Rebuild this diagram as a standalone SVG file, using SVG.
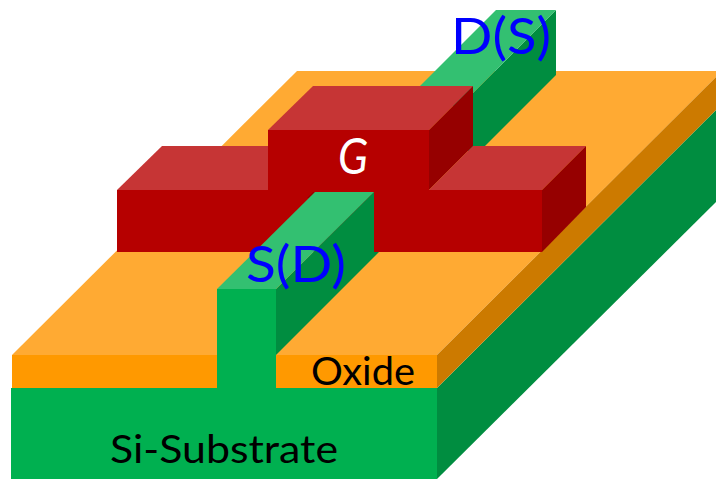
<svg xmlns="http://www.w3.org/2000/svg" width="716" height="479" viewBox="0 0 716 479">
<style>
.gf{fill:#00B050}.gt{fill:#33C071}.gs{fill:#008D40}
.of{fill:#FF9900}.ot{fill:#FFAA33}.os{fill:#CC7A00}
.rf{fill:#B60000}.rt{fill:#C63535}.rs{fill:#960000}
text{font-family:"Lato","Open Sans",sans-serif;font-size:38px}
.k{fill:#000}.b{fill:#0000FF;font-size:50px}.w{fill:#FFF;font-style:italic;font-size:50px}
</style>
<rect width="716" height="479" fill="#FFFFFF"/>
<g id="substrate">
<polygon class="gs" points="437,388 716,110 716,202 437,479"/>
<rect class="gf" x="11" y="388" width="426" height="91"/>
<text class="k" x="110" y="463" textLength="228" lengthAdjust="spacingAndGlyphs">Si-Substrate</text>
</g>
<g id="oxide-back">
<polygon class="ot" points="12,355 297,71 722,71 437,355"/>
<polygon class="os" points="437,355 716,77 716,110 437,388"/>
<rect class="of" x="12" y="355" width="205" height="33"/>
<rect class="of" x="276" y="355" width="161" height="33"/>
</g>
<g id="drain">
<polygon class="gs" points="556,10 556,75 480,151 460,151 460,106"/>
<polygon class="gt" points="496,10 556,10 460,106 400,106"/>
<text class="b" x="451" y="54" textLength="100" lengthAdjust="spacingAndGlyphs">D(S)</text>
</g>
<g id="gate">
<rect class="rf" x="117" y="190" width="425" height="62"/>
<rect class="rf" x="268" y="130" width="161" height="60"/>
<polygon class="rt" points="117,190 162,146 268,146 268,190"/>
<polygon class="rt" points="268,130 313,86 473,86 429,130"/>
<polygon class="rs" points="429,130 473,86 473,146 429,190"/>
<polygon class="rt" points="429,190 473,146 586,146 542,190"/>
<polygon class="rs" points="542,190 586,146 586,207 542,252"/>
<polygon class="rs" points="307,198 313,192 315,192 310,198"/>
<text class="w" x="338" y="174" textLength="30" lengthAdjust="spacingAndGlyphs">G</text>
</g>
<g id="source">
<polygon class="gs" points="276,289 374,192 374,252 379,252 276,355"/>
<polygon class="gt" points="217,289 276,289 374,192 315,192"/>
<rect class="gf" x="217" y="289" width="59" height="99"/>
<text class="b" x="246" y="282" textLength="100" lengthAdjust="spacingAndGlyphs">S(D)</text>
</g>
<g id="oxide-label">
<text class="k" x="311" y="385" textLength="104" lengthAdjust="spacingAndGlyphs">Oxide</text>
</g>
<g id="connectors"></g>
</svg>
